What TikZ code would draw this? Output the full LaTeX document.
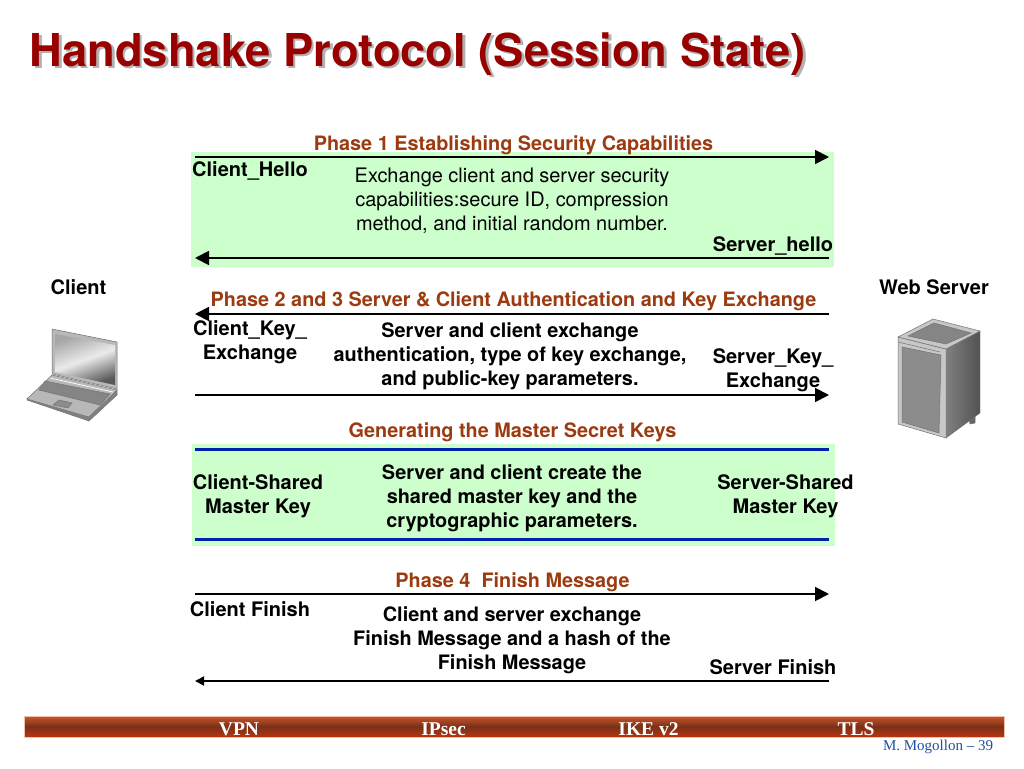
\documentclass[tikz,border=0pt]{standalone}
\usepackage{fontspec}
\setmainfont{TeX Gyre Heros}
\newfontfamily\footfont{Liberation Serif}
\usetikzlibrary{arrows.meta}
\definecolor{phasegreen}{HTML}{CCFFCC}
\definecolor{phasebrown}{HTML}{9C3A10}
\definecolor{titlered}{HTML}{990000}
\definecolor{linkblue}{HTML}{0022AA}
\definecolor{footblue}{HTML}{1F4FA0}
\definecolor{barlight}{HTML}{C9562C}
\definecolor{bardark}{HTML}{7A3018}
\definecolor{barlow}{HTML}{B8360F}
\definecolor{baredge}{HTML}{F0C0A8}

\begin{document}
\begin{tikzpicture}[x=1pt,y=-1pt,->,>={Triangle[length=14pt,width=14pt]},
    msg/.style={line width=1.8pt,black},
    bluerule/.style={-,line width=3pt,linkblue},
    band/.style={-,fill=phasegreen,draw=none},
    phase node/.style={font=\fontsize{19.85}{24}\selectfont\bfseries,text=phasebrown,inner sep=0pt},
    side node/.style={font=\fontsize{20}{24}\selectfont\bfseries,align=center,inner sep=0pt},
    body node/.style={font=\fontsize{19.9}{24}\selectfont\bfseries,align=center,inner sep=0pt},
    thin node/.style={font=\fontsize{19.95}{24}\selectfont,align=center,inner sep=0pt},
    foot node/.style={font=\footfont\fontsize{19.5}{22}\selectfont\bfseries,text=white,inner sep=0pt},
    part/.style={-,draw=black!55,line width=0.5pt}]

    \useasboundingbox (0,0) rectangle (1024,768);

    % title with its shadow
    \node[font=\fontsize{45.3}{56}\selectfont\bfseries,text=black!30,inner sep=0pt,anchor=west] (titleshade) at (32,56) {Handshake Protocol (Session State)};
    \node[font=\fontsize{45.3}{56}\selectfont\bfseries,text=titlered,inner sep=0pt,anchor=west] (title) at (29.5,54) {Handshake Protocol (Session State)};

    % green bands
    \path[band] (191,152) rectangle (834,267);
    \path[band] (192,444) rectangle (835,546);

    % end points of the arrows
    \coordinate (p1l) at (195,157);
    \coordinate (p1r) at (829,157);
    \coordinate (h1l) at (195,258);
    \coordinate (h1r) at (829,258);
    \coordinate (p2l) at (195,314);
    \coordinate (p2r) at (829,314);
    \coordinate (k2l) at (195,395);
    \coordinate (k2r) at (829,395);
    \coordinate (m1l) at (195,449);
    \coordinate (m1r) at (829,449);
    \coordinate (m2l) at (195,539);
    \coordinate (m2r) at (829,539);
    \coordinate (p4l) at (195,594);
    \coordinate (p4r) at (829,594);
    \coordinate (f4l) at (195,681);
    \coordinate (f4r) at (829,681);

    \draw[msg] (p1l) -- (p1r);
    \draw[msg] (h1r) -- (h1l);
    \draw[msg] (p2r) -- (p2l);
    \draw[msg] (k2l) -- (k2r);
    \draw[bluerule] (m1l) -- (m1r);
    \draw[bluerule] (m2l) -- (m2r);
    \draw[msg] (p4l) -- (p4r);
    \draw[msg,>={Triangle[length=9pt,width=9pt]}] (f4r) -- (f4l);

    % headings
    \node[phase node] (phase1) at (513.5,145) {Phase 1 Establishing Security Capabilities};
    \node[phase node] (phase2) at (513.5,301.5) {Phase 2 and 3 Server \& Client Authentication and Key Exchange};
    \node[phase node] (phase3) at (512.5,432.5) {Generating the Master Secret Keys};
    \node[phase node] (phase4) at (512.5,582.5) {Phase 4\ \ Finish Message};

    % labels on the sides
    \node[side node] (clienthello) at (250,170.5) {Client\_Hello};
    \node[side node] (serverhello) at (773,246) {Server\_hello};
    \node[side node] (clientkey) at (250,342.5) {Client\_Key\_\\Exchange};
    \node[side node] (serverkey) at (773,370.5) {Server\_Key\_\\Exchange};
    \node[side node] (clientshared) at (258,496.5) {Client-Shared\\Master Key};
    \node[side node] (servershared) at (785.5,496.5) {Server-Shared\\Master Key};
    \node[side node] (clientfinish) at (250,609) {Client Finish};
    \node[side node] (serverfinish) at (773,667.5) {Server Finish};

    % text in the middle
    \node[thin node] (text1) at (512,201) {Exchange client and server security\\capabilities:secure ID, compression\\method, and initial random number.};
    \node[body node] (text2) at (510,356) {Server and client exchange\\authentication, type of key exchange,\\and public-key parameters.};
    \node[body node] (text3) at (512,498) {Server and client create the\\shared master key and the\\cryptographic parameters.};
    \node[body node] (text4) at (512,640.5) {Client and server exchange\\Finish Message and a hash of the\\Finish Message};

    \node[side node] (client) at (78.5,287.5) {Client};
    \node[side node] (webserver) at (934,287) {Web Server};

    % laptop
    \fill[part,fill=black!50] (27,400) -- (89,421) -- (117,395) -- (117,390) -- (89,416) -- (27,398) -- cycle;
    \fill[part,fill=black!28] (52,375) -- (117,390) -- (89,417) -- (27,399) -- cycle;
    \fill[part,fill=black!28] (52,329) -- (117,342) -- (117,389) -- (52,374) -- cycle;
    \shade[-,left color=black!35,right color=black!65,middle color=black!8,shading angle=20] (55,334) -- (115,345) -- (115,385) -- (55,372) -- cycle;
    \draw[-,white,line width=0.7pt] (50,378) -- (113,392);
    \fill[part,fill=black!48] (45,381) -- (110,394) -- (100,405) -- (39,390) -- cycle;
    \fill[part,fill=black!45] (59,400) -- (72,403) -- (68,408) -- (53,405) -- cycle;

    % server
    \fill[part,fill=black!60] (969,419) -- (975,416) -- (975,423) -- (970,424) -- cycle;
    \shade[-,left color=black!50,right color=black!68,draw=black!55] (946,349) -- (980,331) -- (980,413) -- (946,438) -- cycle;
    \fill[part,fill=black!22] (898,337) -- (946,349) -- (946,438) -- (898,424) -- cycle;
    \fill[part,fill=black!22] (898,337) -- (933,319) -- (980,331) -- (946,349) -- cycle;
    \fill[part,fill=black!48] (908,336) -- (934,323) -- (971,333) -- (946,344) -- cycle;
    \draw[part] (898,342) -- (940,352);
    \fill[part,fill=black!45] (902,347) -- (941,355) -- (939,433) -- (902,422) -- cycle;

    % bar at the bottom
    \path[-,draw=baredge,line width=1pt,top color=barlight,bottom color=barlow,middle color=bardark] (24,716) rectangle (1004,737);
    \node[foot node] (vpn) at (239,729) {VPN};
    \node[foot node] (ipsec) at (443.5,729) {IPsec};
    \node[foot node] (ike) at (648.5,729) {IKE v2};
    \node[foot node] (tls) at (856,729) {TLS};
    \node[font=\footfont\fontsize{15}{18}\selectfont,text=footblue,inner sep=0pt] (page) at (938,746.5) {M. Mogollon – 39};
\end{tikzpicture}
\end{document}
